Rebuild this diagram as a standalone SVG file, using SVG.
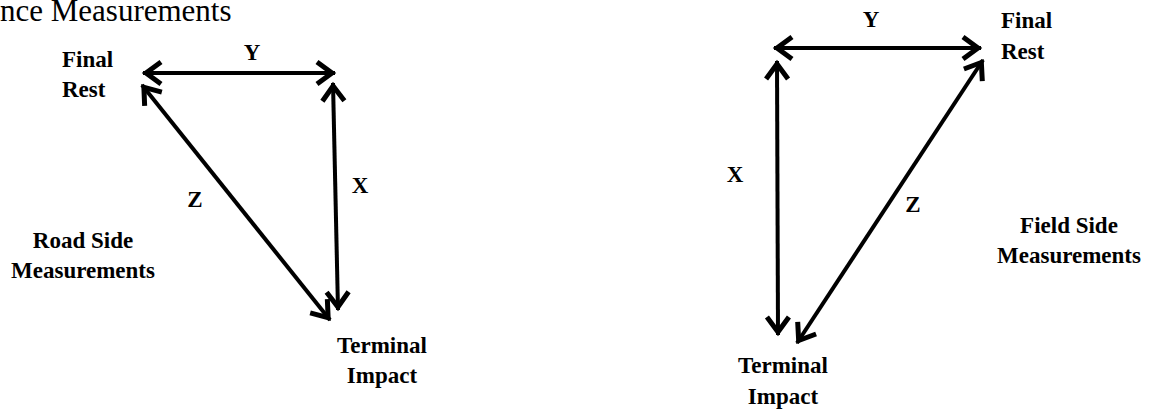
<svg xmlns="http://www.w3.org/2000/svg" width="1151" height="410" viewBox="0 0 1151 410">
  <style>
    .lbl { font-family: "Liberation Serif", "Times New Roman", serif; font-weight: bold; font-size: 23px; fill: #000; }
    .mid { text-anchor: middle; }
    .title { font-family: "Liberation Serif", "Times New Roman", serif; font-size: 31px; fill: #000; }
    .conn { stroke: #000; stroke-width: 4; fill: none; marker-start: url(#arr); marker-end: url(#arr); }
  </style>
  <defs>
    <marker id="arr" markerUnits="userSpaceOnUse" markerWidth="30" markerHeight="30" viewBox="-25 -15 30 30" refX="0" refY="0" orient="auto-start-reverse" overflow="visible">
      <path d="M -18 -11 L -3 0 L -18 11" fill="none" stroke="#000" stroke-width="5" stroke-linejoin="miter" stroke-miterlimit="10"/>
    </marker>
  </defs>
  <rect width="1151" height="410" fill="#fff"/>

  <text class="title" x="0" y="21">nce Measurements</text>

  <g id="connectors">
    <line class="conn" x1="143" y1="73" x2="335" y2="73"/>
    <line class="conn" x1="142" y1="85" x2="330" y2="320"/>
    <line class="conn" x1="333" y1="83" x2="338" y2="310"/>
    <line class="conn" x1="774" y1="48" x2="981" y2="48"/>
    <line class="conn" x1="777" y1="61" x2="778" y2="335"/>
    <line class="conn" x1="983" y1="60" x2="797" y2="343"/>
  </g>

  <g id="road-final-rest">
    <text class="lbl" x="62" y="67">Final</text>
    <text class="lbl" x="62" y="97">Rest</text>
  </g>
  <g id="road-terminal-impact">
    <text class="lbl mid" x="382" y="353">Terminal</text>
    <text class="lbl mid" x="382" y="383">Impact</text>
  </g>
  <g id="road-side-label">
    <text class="lbl mid" x="83" y="248">Road Side</text>
    <text class="lbl mid" x="83" y="278">Measurements</text>
  </g>
  <g id="road-y"><text class="lbl mid" x="252" y="60">Y</text></g>
  <g id="road-z"><text class="lbl mid" x="195" y="207">Z</text></g>
  <g id="road-x"><text class="lbl mid" x="360" y="193">X</text></g>

  <g id="field-final-rest">
    <text class="lbl" x="1001" y="28">Final</text>
    <text class="lbl" x="1001" y="59">Rest</text>
  </g>
  <g id="field-terminal-impact">
    <text class="lbl mid" x="783" y="373">Terminal</text>
    <text class="lbl mid" x="783" y="404">Impact</text>
  </g>
  <g id="field-side-label">
    <text class="lbl mid" x="1069" y="233">Field Side</text>
    <text class="lbl mid" x="1069" y="263">Measurements</text>
  </g>
  <g id="field-y"><text class="lbl mid" x="871" y="27">Y</text></g>
  <g id="field-z"><text class="lbl mid" x="913" y="212">Z</text></g>
  <g id="field-x"><text class="lbl mid" x="735" y="182">X</text></g>
</svg>
